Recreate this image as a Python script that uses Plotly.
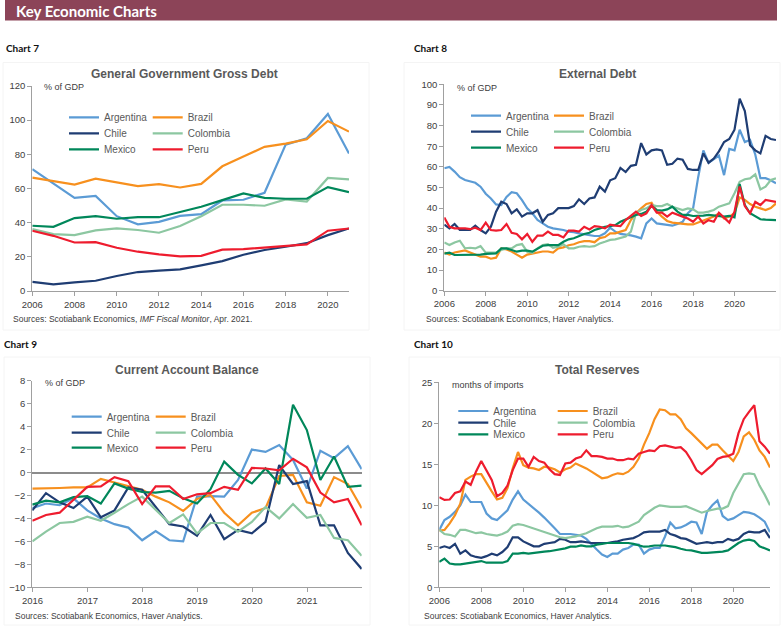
import plotly.graph_objects as go

W, H = 782, 627
COUNTRIES = ["Argentina", "Brazil", "Chile", "Colombia", "Mexico", "Peru"]
COLORS = ["#5B9BD5", "#F7901E", "#1F3D73", "#8CC7A1", "#00875A", "#EE1C2E"]

# ---------------- Chart 7: General Government Gross Debt (% of GDP, annual)
gg_years = list(range(2006, 2022))
gg_argentina = [71.3, 62.9, 54.5, 55.7, 43.8, 39.0, 40.5, 44.0, 45.0, 53.0, 53.4, 57.5, 85.7, 89.4, 103.6, 80.5]
gg_brazil = [66.4, 64.5, 62.3, 65.8, 63.7, 61.4, 62.5, 60.6, 62.7, 73.0, 78.7, 84.4, 86.3, 88.8, 99.5, 93.3]
gg_chile = [5.3, 3.9, 5.0, 6.0, 8.8, 11.1, 11.9, 12.7, 15.0, 17.5, 21.2, 24.0, 25.9, 28.0, 32.7, 36.6]
gg_colombia = [36.2, 33.3, 32.7, 35.5, 36.6, 35.7, 34.1, 38.0, 43.8, 50.5, 50.5, 49.9, 53.6, 52.4, 66.2, 65.3]
gg_mexico = [38.2, 37.6, 42.7, 43.8, 42.3, 43.2, 43.2, 46.4, 49.3, 53.2, 57.1, 54.5, 54.0, 54.0, 60.8, 57.9]
gg_peru = [35.3, 32.3, 28.4, 28.6, 25.3, 23.0, 21.4, 20.3, 20.6, 24.2, 24.5, 25.3, 26.3, 27.3, 35.3, 36.6]

# ---------------- Chart 8: External Debt (% of GDP, quarterly, 2005Q4-2021Q4)
ed_argentina = [59.3, 60, 57.7, 55, 53.6, 52.8, 52.3, 50.4, 47, 44.7, 41.8, 41.5, 45.4, 47.7, 47.2, 43.9,
                39.9, 37.5, 34.3, 32.6, 31, 30.2, 29.8, 29.4, 28.6, 28.4, 27.8, 27.3, 26.8, 26.5, 26.5, 27.8, 30.5,
                28.6, 27.5, 27.3, 26.8, 26.2, 25.4, 32.6, 35, 32.6, 32.3, 31.8, 31.5, 32.3, 33.4, 37.5, 39.9,
                55, 68, 62, 64, 65.5, 56, 68.7, 68, 78, 72, 73, 66, 54.5, 54.5, 53.5, 52]
ed_brazil = [18.5, 17.5, 18.5, 19, 19.5, 18.5, 17.5, 16.5, 16.5, 15.5, 16, 20.5, 20, 19, 17.5, 16,
             17.5, 18, 18.5, 19, 19, 18.5, 20.5, 21, 22, 22.5, 23.5, 24, 24, 23.5, 25.5, 26,
             27.8, 27.8, 28.6, 29.4, 34.2, 37.5, 39.9, 42, 42.6, 38.3, 35.9, 33.8, 33, 32.6, 32.5, 32.1,
             32.1, 33, 34.2, 35, 35.9, 37.5, 35, 35.9, 37.5, 45.2, 44, 42, 40.7, 39.9, 39.1, 40, 42.3]
ed_chile = [32, 30.2, 32.3, 29.5, 29.5, 29.5, 31.5, 29.4, 27.8, 31, 38.3, 43.1, 42, 37.5, 39.4, 35.9,
            37.5, 37.5, 39, 33.4, 36.7, 37.5, 40, 40, 40, 41, 44.3, 42, 44.7, 45.2, 50.4, 48,
            53.5, 54.5, 59.5, 57.5, 60.5, 61, 71.5, 66, 68, 68.5, 68, 61, 61.5, 64, 63.5, 59,
            58.5, 58.5, 66.5, 62, 64, 67.5, 72, 73.5, 78, 93, 87, 70.5, 68, 66.5, 75, 73.5, 73]
ed_colombia = [23.4, 22.1, 23.4, 24.2, 20.5, 20.8, 20.5, 21.6, 18.4, 18.4, 18.4, 19.7, 20.5, 20.5, 22.1, 22.6,
               18.9, 18.4, 20.5, 22.1, 22.6, 20.8, 21.3, 22.5, 20.5, 20.5, 21.3, 21.6, 21.3, 21.6, 22.9, 23.7,
               24.6, 24.9, 25.4, 26.2, 28.6, 37.5, 39.1, 39.9, 41.5, 41, 41, 42, 40.7, 39.9, 39.1, 39.9,
               39.4, 37.8, 37.8, 38.3, 39.1, 40.7, 41.5, 42.3, 47.2, 52.8, 54, 54.4, 56.4, 49.1, 50.4, 53.6, 54.4]
ed_mexico = [18, 18.4, 17.3, 17.3, 17.3, 17.3, 17.3, 17.5, 17.8, 18.1, 18.1, 20.5, 20.5, 19.7, 18.9, 19.4,
             19.4, 18.9, 20.5, 21.8, 22.1, 22.1, 22.1, 23.7, 24.9, 25.4, 26.5, 27.5, 28.1, 29.4, 30.2, 31,
             31.3, 31.8, 33.4, 34.6, 35.9, 36.7, 37.2, 38.3, 41, 39.1, 38.8, 39.4, 40.7, 38.3, 36.7, 36.7,
             36.2, 36.2, 36.4, 36.7, 36.5, 36.2, 35.9, 36.2, 35.5, 51.7, 41.5, 37.5, 35.9, 34.6, 34.4, 34.2, 34.2]
ed_peru = [35.5, 31, 30.2, 30.2, 30.2, 29.8, 30.5, 29.4, 33, 29.4, 29.1, 29.4, 32.3, 28.1, 27.5, 24.9,
           27.5, 23.7, 26.7, 26.7, 28.6, 27, 27, 25.8, 29.1, 29.1, 28.6, 31, 29.7, 31.3, 31, 30.2,
           32, 31.5, 31.3, 34.2, 36.2, 38.3, 36.2, 37.5, 41.5, 37.8, 37.8, 35.9, 37.8, 36.7, 35.9, 35,
           33.4, 35.9, 32.6, 34.2, 33.4, 37.8, 35.5, 33, 38.3, 50.5, 41, 37.5, 43, 41.5, 44, 43.5, 43]

# ---------------- Chart 9: Current Account Balance (% of GDP, quarterly, 2015Q4-2021Q4)
ca_argentina = [-3.1, -2.7, -2.85, -2.25, -3.3, -4.0, -4.5, -4.8, -5.9, -5.1, -5.9, -6.0, -2.1,
                -2.05, -2.1, -0.65, 2.0, 1.8, 2.4, 1.1, -1.4, 1.9, 1.25, 2.3, 0.3]
ca_brazil = [-1.4, -1.4, -1.35, -1.3, -1.3, -0.55, -0.85, -1.2, -1.5, -2.1, -2.6, -3.35, -2.3,
             -1.95, -3.5, -4.6, -3.5, -3.1, -0.3, -0.2, -2.6, -2.9, -0.4, -1.0, -3.1]
ca_chile = [-3.3, -1.8, -2.6, -3.1, -2.1, -3.9, -3.3, -1.3, -1.5, -3.0, -4.5, -4.7, -5.5,
            -3.7, -5.8, -5.0, -5.3, -4.3, 0.65, -1.0, -0.75, -4.6, -4.6, -7.0, -8.4]
ca_colombia = [-6.0, -5.15, -4.4, -4.3, -3.85, -4.2, -3.5, -2.75, -2.1, -3.25, -4.4, -3.65, -5.3,
               -4.4, -4.4, -5.15, -4.3, -3.0, -4.0, -2.75, -3.95, -3.7, -5.7, -5.9, -7.25]
ca_mexico = [-2.8, -2.45, -2.6, -2.15, -2.05, -2.7, -0.95, -1.4, -1.7, -1.75, -1.6, -2.25, -2.7,
             -1.45, 0.95, -0.2, -0.95, 0.35, -1.0, 5.9, 3.7, -0.65, 1.4, -1.25, -1.15]
ca_peru = [-4.2, -3.7, -3.5, -2.4, -1.25, -1.2, -0.4, -0.75, -2.75, -1.2, -1.2, -2.3, -1.9,
           -1.8, -1.25, -1.5, 0.4, 0.35, 0.2, 1.2, 0.45, -1.75, -2.6, -2.3, -4.6]

# ---------------- Chart 10: Total Reserves (months of imports, quarterly, 2005Q4-2021Q3)
tr_argentina = [7.0, 8.2, 8.6, 9.2, 10.0, 11.3, 10.4, 10.4, 10.4, 9.0, 8.4, 8.2, 8.8, 9.4, 10.7, 11.7,
                10.7, 10.2, 9.6, 9.1, 8.5, 7.9, 7.2, 6.5, 6.5, 6.5, 6.4, 6.3, 5.9, 5.2, 4.6, 4.0,
                3.7, 4.1, 4.1, 4.6, 4.8, 5.2, 5.2, 4.1, 4.6, 4.8, 4.8, 6.2, 7.9, 7.2, 7.3, 7.6,
                8.0, 7.9, 6.5, 9.2, 10.0, 10.6, 8.7, 8.2, 8.4, 8.8, 9.2, 9.1, 8.9, 8.5, 8.0, 6.7]
tr_brazil = [6.9, 7.0, 7.8, 8.8, 10.2, 13.1, 13.5, 13.8, 13.8, 12.7, 11.7, 10.7, 10.9, 12.1, 14.5, 16.5,
             14.9, 14.6, 14.5, 14.3, 14.7, 14.6, 14.4, 14.0, 14.4, 14.6, 15.1, 14.8, 14.5, 14.1, 13.7, 13.3,
             13.4, 13.7, 13.9, 13.8, 14.1, 14.7, 15.7, 17.4, 18.8, 20.5, 21.7, 21.6, 21.1, 21.1, 20.5, 19.4,
             18.8, 18.2, 17.5, 16.9, 17.4, 17.4, 16.7, 16.0, 15.4, 16.5, 18.4, 18.9, 18.0, 16.7, 15.9, 14.6]
tr_chile = [4.8, 5.0, 4.8, 5.3, 4.1, 4.5, 3.9, 3.7, 3.6, 3.8, 4.1, 3.9, 4.3, 4.9, 6.1, 6.1,
            5.6, 5.3, 5.0, 5.0, 5.3, 5.4, 5.5, 5.9, 5.8, 5.5, 5.5, 5.6, 5.5, 5.4, 5.4, 5.4,
            5.4, 5.5, 5.6, 5.8, 5.9, 6.0, 6.3, 6.7, 6.8, 6.8, 6.8, 7.0, 6.5, 6.3, 6.0, 5.9,
            5.6, 5.3, 5.4, 5.5, 5.4, 5.5, 5.5, 5.9, 5.7, 5.9, 6.5, 6.8, 6.7, 6.7, 7.0, 6.0]
tr_colombia = [7.0, 6.5, 6.4, 6.2, 7.0, 7.0, 6.8, 6.6, 6.7, 6.5, 6.4, 6.3, 6.5, 6.8, 7.5, 7.7,
               7.6, 7.4, 7.2, 7.0, 6.8, 6.6, 6.4, 6.1, 6.0, 6.1, 6.2, 6.4, 6.6, 6.9, 7.2, 7.4,
               7.4, 7.4, 7.5, 7.3, 7.4, 7.7, 8.0, 8.8, 9.3, 9.7, 10.0, 9.9, 9.8, 9.8, 9.8, 9.9,
               9.6, 9.4, 9.1, 9.3, 9.5, 9.6, 9.6, 9.9, 11.5, 12.7, 13.8, 13.9, 13.8, 12.4, 11.3, 10.0]
tr_mexico = [3.1, 3.5, 2.9, 2.8, 2.8, 2.9, 3.0, 3.1, 3.2, 3.0, 3.0, 3.0, 3.0, 3.2, 4.1, 4.1,
             4.2, 4.1, 4.2, 4.3, 4.35, 4.4, 4.5, 4.6, 4.75, 4.95, 4.95, 5.1, 5.0, 5.0, 5.2, 5.3,
             5.4, 5.4, 5.4, 5.45, 5.4, 5.3, 5.1, 4.95, 5.0, 5.1, 5.1, 5.1, 5.0, 4.9, 4.7, 4.55,
             4.5, 4.35, 4.2, 4.2, 4.25, 4.3, 4.35, 4.5, 4.95, 5.4, 5.7, 5.8, 5.65, 5.0, 4.75, 4.5]
tr_peru = [11.0, 10.65, 10.7, 11.5, 11.7, 12.9, 12.5, 14.1, 15.4, 14.3, 13.1, 11.1, 11.5, 12.4, 14.3, 15.7,
           15.7, 14.7, 15.9, 15.4, 15.2, 14.4, 13.8, 13.7, 15.1, 15.2, 15.7, 15.9, 16.7, 16.0, 16.0, 15.9,
           15.7, 15.7, 15.5, 15.5, 15.7, 15.6, 16.3, 16.5, 16.7, 16.6, 17.2, 17.3, 17.15, 17.0, 17.1, 16.5,
           15.5, 14.3, 13.8, 14.3, 14.9, 15.65, 15.9, 16.0, 16.3, 18.8, 20.5, 21.4, 22.2, 17.8, 17.15, 16.3]


def quarter_ends(first_year, n):
    dates = [f"{first_year - 1}-12-31"]
    year = first_year
    while len(dates) < n:
        for md in ("03-31", "06-30", "09-30", "12-31"):
            dates.append(f"{year}-{md}")
        year += 1
    return dates[:n]


def fx(p):
    return p / W


def fy(p):
    return 1 - p / H


FONT = "Liberation Sans, Arial, sans-serif"
AXC = "#A0A0A0"
TXT = "#404040"

charts = [
    dict(series=[gg_argentina, gg_brazil, gg_chile, gg_colombia, gg_mexico, gg_peru],
         x=gg_years, ax="", leg=(69, 152.7, [117.3, 133.3, 149.3])),
    dict(series=[ed_argentina, ed_brazil, ed_chile, ed_colombia, ed_mexico, ed_peru],
         x=quarter_ends(2006, 65), ax="2", leg=(471, 554, [115.7, 131.7, 147.7])),
    dict(series=[ca_argentina, ca_brazil, ca_chile, ca_colombia, ca_mexico, ca_peru],
         x=quarter_ends(2016, 25), ax="3", leg=(71.7, 155.7, [416.7, 432.7, 447.7])),
    dict(series=[tr_argentina, tr_brazil, tr_chile, tr_colombia, tr_mexico, tr_peru],
         x=quarter_ends(2006, 64), ax="4", leg=(458.3, 557.7, [411, 422.7, 434.3])),
]

fig = go.Figure()
layout_extra = {}
leg_n = 0
for c in charts:
    for s, (name, col, vals) in enumerate(zip(COUNTRIES, COLORS, c["series"])):
        leg_n += 1
        lkey = "legend" if leg_n == 1 else f"legend{leg_n}"
        fig.add_trace(go.Scatter(
            x=c["x"][:len(vals)], y=vals, name=name, mode="lines",
            line=dict(color=col, width=2.2),
            xaxis="x" + c["ax"], yaxis="y" + c["ax"],
            legend=lkey, showlegend=True,
        ))
        xcol = c["leg"][s % 2]
        yrow = c["leg"][2][s // 2]
        layout_extra[lkey] = dict(
            x=fx(xcol - 5), y=fy(yrow), xanchor="left", yanchor="middle",
            bgcolor="rgba(0,0,0,0)", borderwidth=0,
            font=dict(family=FONT, size=10, color="#595959"),
        )

base_axis = dict(showline=True, linecolor=AXC, linewidth=1.3, ticks="outside", ticklen=4,
                 tickcolor=AXC, tickwidth=1.2, showgrid=False, zeroline=False,
                 tickfont=dict(family=FONT, size=9.5, color=TXT))

fig.update_layout(
    width=W, height=H, margin=dict(l=0, r=0, t=0, b=0, pad=0, autoexpand=False),
    paper_bgcolor="white", plot_bgcolor="white",
    font=dict(family=FONT, color=TXT),
    xaxis=dict(base_axis, domain=[fx(32.3), fx(349)], anchor="y", range=[2006, 2021],
               tickvals=list(range(2006, 2021, 2))),
    yaxis=dict(base_axis, domain=[fy(291), fy(86)], anchor="x", range=[0, 120], dtick=20),
    xaxis2=dict(base_axis, domain=[fx(444.3), fx(776)], anchor="y2", type="date",
                range=["2005-12-31", "2021-12-31"], tick0="2006-01-01", dtick="M24", tickformat="%Y"),
    yaxis2=dict(base_axis, domain=[fy(290.7), fy(84.3)], anchor="x2", range=[0, 100], dtick=10),
    xaxis3=dict(base_axis, domain=[fx(32.3), fx(361.7)], anchor="y3", type="date",
                range=["2015-12-31", "2021-12-31"], tick0="2016-01-01", dtick="M12", tickformat="%Y"),
    yaxis3=dict(base_axis, domain=[fy(587.3), fy(380.7)], anchor="x3", range=[-10, 8], dtick=2,
                zeroline=True, zerolinecolor="#8C8C8C", zerolinewidth=1.5),
    xaxis4=dict(base_axis, domain=[fx(439.3), fx(770)], anchor="y4", type="date",
                range=["2005-12-31", "2021-09-30"], tick0="2006-01-01", dtick="M24", tickformat="%Y"),
    yaxis4=dict(base_axis, domain=[fy(587.3), fy(382.3)], anchor="x4", range=[0, 25], dtick=5),
    **layout_extra,
)

shapes = [
    dict(type="rect", xref="paper", yref="paper", x0=fx(5), x1=fx(777), y0=fy(20.5), y1=fy(0),
         fillcolor="#8C4458", line=dict(width=0), layer="below"),
]
for (x0, y0, x1, y1) in [(3, 62.5, 369, 330), (404, 62.5, 780, 330), (4, 357, 370, 625), (409, 357, 780, 625)]:
    shapes.append(dict(type="rect", xref="paper", yref="paper", x0=fx(x0), x1=fx(x1), y0=fy(y1), y1=fy(y0),
                       line=dict(color="#F4F4F4", width=1), layer="below"))

ann = []


def add_text(text, x, y, size, color=TXT, bold=False, family=FONT, xanchor="left"):
    ann.append(dict(text=f"<b>{text}</b>" if bold else text, x=fx(x), y=fy(y), xref="paper", yref="paper",
                    xanchor=xanchor, yanchor="middle", showarrow=False,
                    font=dict(family=family, size=size, color=color)))


add_text("Key Economic Charts", 14, 10.5, 15, color="white", bold=True, family="Lato, Open Sans, sans-serif")
add_text("Chart 7", 4, 48.5, 10, color="#111111", bold=True, family="Lato, sans-serif")
add_text("Chart 8", 412, 48.5, 10, color="#111111", bold=True, family="Lato, sans-serif")
add_text("Chart 9", 2, 344, 10, color="#111111", bold=True, family="Lato, sans-serif")
add_text("Chart 10", 412, 344, 10, color="#111111", bold=True, family="Lato, sans-serif")

add_text("General Government Gross Debt", 184, 74, 12, color="#595959", bold=True, xanchor="center")
add_text("External Debt", 597, 74, 12, color="#595959", bold=True, xanchor="center")
add_text("Current Account Balance", 187, 370, 12, color="#595959", bold=True, xanchor="center")
add_text("Total Reserves", 597, 370, 12, color="#595959", bold=True, xanchor="center")

add_text("% of GDP", 41.5, 87.5, 9, color=TXT)
add_text("% of GDP", 455.5, 88.3, 9, color=TXT)
add_text("% of GDP", 43.3, 383.5, 9, color=TXT)
add_text("months of imports", 449.5, 385, 9, color=TXT)

add_text("Sources: Scotiabank Economics, <i>IMF Fiscal Monitor</i>, Apr. 2021.", 10.5, 318.5, 8.5)
add_text("Sources: Scotiabank Economics, Haver Analytics.", 424, 318.5, 8.5)
add_text("Sources: Scotiabank Economics, Haver Analytics.", 13.3, 616, 8.5)
add_text("Sources: Scotiabank Economics, Haver Analytics.", 422, 616, 8.5)

fig.update_layout(shapes=shapes, annotations=ann)
fig.write_html(
    "out.html",
    config={"displayModeBar": False},
    post_script="document.body.style.margin='0';document.body.style.padding='0';"
                "document.body.style.overflow='hidden';",
)
